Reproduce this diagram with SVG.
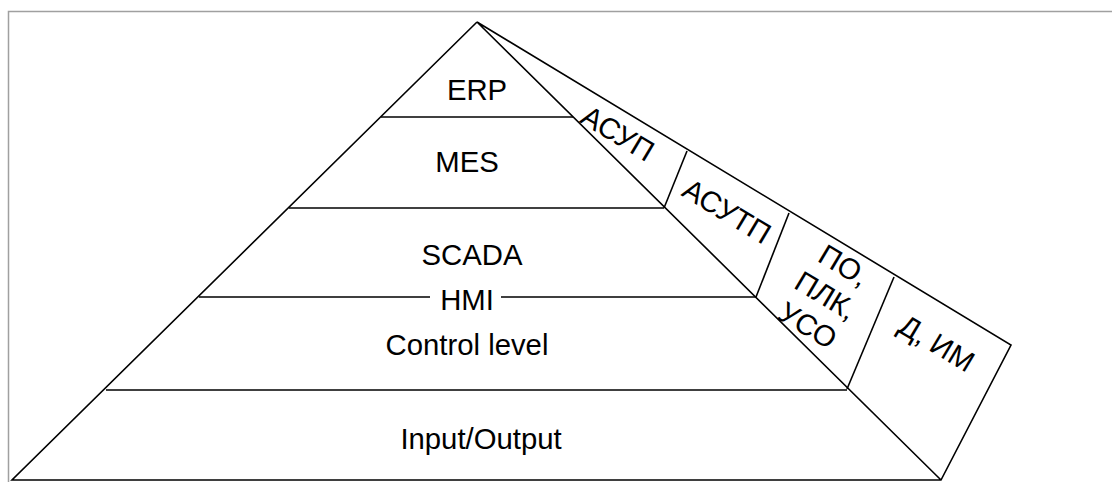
<svg xmlns="http://www.w3.org/2000/svg" width="1112" height="482" viewBox="0 0 1112 482">
<style>
.ln{stroke:#000;stroke-width:1.6;fill:none;stroke-linejoin:miter}
.fr{stroke:#a0a0a0;stroke-width:1.5;fill:none}
.t{font-family:"Liberation Sans",Arial,sans-serif;font-size:29.3px;fill:#000;text-anchor:middle}
</style>
<rect width="1112" height="482" fill="#fff"/>
<g id="frame"><path class="fr" d="M8.5,482 V11.5 H1112"/></g>
<g id="connectors">
<path class="ln" d="M477,22 L12,480 H941 L1011,345 L477,22 L941,480"/>
<path class="ln" d="M381,117 H573"/>
<path class="ln" d="M289,208 H664"/>
<path class="ln" d="M199,297 H430 M501,297 H756"/>
<path class="ln" d="M106,390 H847"/>
<path class="ln" d="M687,151 L664,208"/>
<path class="ln" d="M789,213 L756,297"/>
<path class="ln" d="M894,277 L847,389"/>
</g>
<g id="erp"><text class="t" x="477" y="100">ERP</text></g>
<g id="mes"><text class="t" x="467" y="172">MES</text></g>
<g id="scada"><text class="t" x="472" y="265">SCADA</text></g>
<g id="hmi"><text class="t" x="467" y="310">HMI</text></g>
<g id="control"><text class="t" x="467" y="355">Control level</text></g>
<g id="io"><text class="t" x="481" y="449">Input/Output</text></g>
<g id="asup"><text class="t" transform="translate(618,133) rotate(31)" y="10.5">АСУП</text></g>
<g id="asutp"><text class="t" transform="translate(727,211) rotate(31)" y="10.5">АСУТП</text></g>
<g id="plc"><text class="t" transform="translate(826,295) rotate(31)"><tspan x="0" y="-24.5">ПО,</tspan><tspan x="0" y="10.5">ПЛК,</tspan><tspan x="0" y="45.5">УСО</tspan></text></g>
<g id="dim"><text class="t" transform="translate(937,343) rotate(31)" y="10.5">Д, ИМ</text></g>
</svg>
